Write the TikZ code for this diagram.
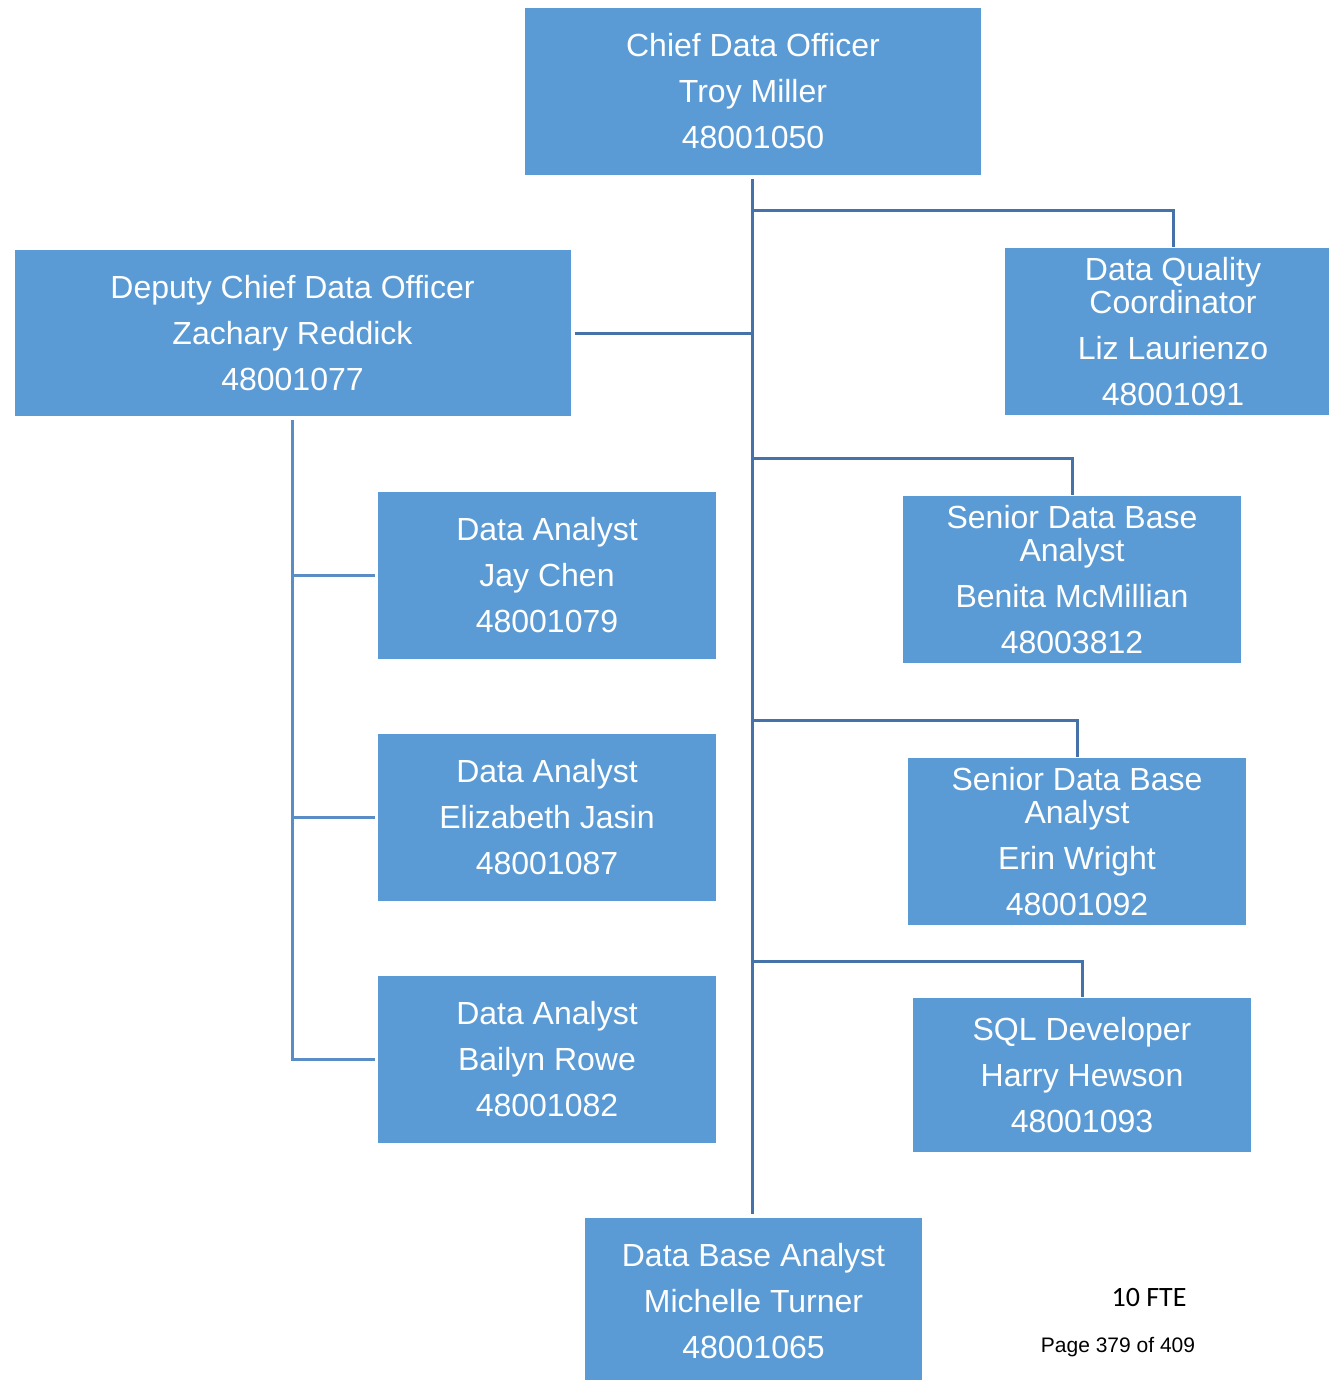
\documentclass[tikz,border=0pt]{standalone}
\usepackage{fontspec}
\setmainfont{Liberation Sans}
\newfontfamily\notefont{Carlito}
\definecolor{boxblue}{HTML}{5B9BD5}
\definecolor{trunkblue}{HTML}{4572A8}
\definecolor{leftblue}{HTML}{5A8CC6}
\tikzset{
  post/.style={fill=boxblue, draw=none, text=white, inner sep=0pt,
    align=center, font=\fontsize{32}{46}\selectfont},
  trunk/.style={draw=trunkblue, line width=3pt},
  branch/.style={draw=leftblue, line width=3pt},
}
\begin{document}
\begin{tikzpicture}[x=1pt,y=-1pt]
\useasboundingbox (0,0) rectangle (1328,1380);

% boxes
\node[post, minimum width=456pt, minimum height=167pt] (cdo) at (753,91.5)
  {Chief Data Officer\\Troy Miller\\48001050};
\node[post, minimum width=336pt, minimum height=167pt] (dqc) at (1173,331.5)
  {Data Quality\\[-13pt]Coordinator\\Liz Laurienzo\\48001091};
\node[post, minimum width=556pt, minimum height=166pt] (dep) at (292.5,333)
  {Deputy Chief Data Officer\\Zachary Reddick\\48001077};
\node[post, minimum width=338pt, minimum height=167pt] (da1) at (547,575.5)
  {Data Analyst\\Jay Chen\\48001079};
\node[post, minimum width=338pt, minimum height=167pt] (da2) at (547,817.5)
  {Data Analyst\\Elizabeth Jasin\\48001087};
\node[post, minimum width=338pt, minimum height=167pt] (da3) at (547,1059.5)
  {Data Analyst\\Bailyn Rowe\\48001082};
\node[post, minimum width=338pt, minimum height=167pt] (sdb1) at (1072,579.5)
  {Senior Data Base\\[-13pt]Analyst\\Benita McMillian\\48003812};
\node[post, minimum width=338pt, minimum height=167pt] (sdb2) at (1077,841.5)
  {Senior Data Base\\[-13pt]Analyst\\Erin Wright\\48001092};
\node[post, minimum width=338pt, minimum height=154pt] (sql) at (1082,1075)
  {SQL Developer\\Harry Hewson\\48001093};
\node[post, minimum width=337pt, minimum height=167pt] (dba) at (753.5,1301.5)
  {Data Base Analyst\\Michelle Turner\\48001065};

\node[font=\notefont\fontsize{28}{30}\selectfont] (fte) at (1149,1297) {10 FTE};
\node[font=\fontsize{21}{24}\selectfont] (page) at (1118,1347.5) {Page 379 of 409};

% junctions on the trunk
\coordinate (j1) at (752,211);
\coordinate (jd) at (752,333);
\coordinate (j2) at (752,458);
\coordinate (j3) at (752,720);
\coordinate (j4) at (752,961);

% main trunk
\draw[trunk, shorten <=4pt, shorten >=4pt] ([xshift=-1pt]cdo.south) -- ([xshift=-1.5pt]dba.north);

% right-hand branches
\draw[trunk, shorten >=1pt] (j1) -| (dqc.north);
\draw[trunk, shorten >=1pt] (j2) -| (sdb1.north);
\draw[trunk, shorten >=1pt] (j3) -| (sdb2.north);
\draw[trunk, shorten >=1pt] (j4) -| (sql.north);

% deputy branch
\draw[trunk, shorten <=4pt] (dep.east) -- (jd);

% deputy's reports
\coordinate (lt) at (dep.south |- da3.west);
\draw[branch, shorten <=4pt] (dep.south) -- (lt) -- ([xshift=-3pt]da3.west);
\draw[branch, shorten >=3pt] (dep.south |- da1.west) -- (da1.west);
\draw[branch, shorten >=3pt] (dep.south |- da2.west) -- (da2.west);
\end{tikzpicture}
\end{document}
